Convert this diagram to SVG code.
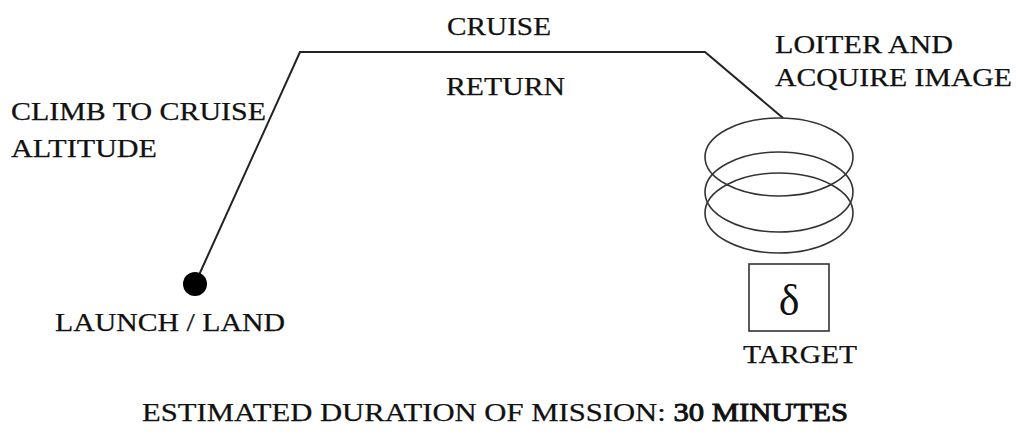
<svg xmlns="http://www.w3.org/2000/svg" width="1020" height="439" viewBox="0 0 1020 439">
  <style>
    .lbl { font-family: "Liberation Serif", "Times New Roman", serif; font-size: 26px; fill: #111; stroke: #111; stroke-width: 0.25; }
    .path { fill: none; stroke: #222; stroke-width: 2; stroke-linejoin: miter; }
    .loop { fill: none; stroke: #333; stroke-width: 1.6; }
  </style>
  <rect width="1020" height="439" fill="#ffffff"/>

  <!-- flight path: climb, cruise leg, descent into the loiter orbit -->
  <g id="connectors">
    <path class="path" d="M 199 275 L 300 52 L 705 52 L 783 118"/>
  </g>

  <g id="launch">
    <circle cx="195" cy="284" r="12" fill="#000"/>
    <text class="lbl" x="55" y="331" textLength="230" lengthAdjust="spacingAndGlyphs">LAUNCH / LAND</text>
  </g>

  <g id="climb">
    <text class="lbl" x="11" y="120" textLength="255" lengthAdjust="spacingAndGlyphs">CLIMB TO CRUISE</text>
    <text class="lbl" x="11" y="157" textLength="146" lengthAdjust="spacingAndGlyphs">ALTITUDE</text>
  </g>

  <g id="cruise">
    <text class="lbl" x="447" y="35" textLength="104" lengthAdjust="spacingAndGlyphs">CRUISE</text>
    <text class="lbl" x="446" y="95" textLength="119" lengthAdjust="spacingAndGlyphs">RETURN</text>
  </g>

  <g id="loiter">
    <ellipse class="loop" cx="779" cy="157" rx="74" ry="39"/>
    <ellipse class="loop" cx="779" cy="192" rx="74" ry="40"/>
    <ellipse class="loop" cx="779" cy="213" rx="74" ry="40"/>
    <text class="lbl" x="775" y="53" textLength="178" lengthAdjust="spacingAndGlyphs">LOITER AND</text>
    <text class="lbl" x="775" y="86" textLength="237" lengthAdjust="spacingAndGlyphs">ACQUIRE IMAGE</text>
  </g>

  <g id="target">
    <rect x="749" y="264" width="80" height="67" fill="none" stroke="#333" stroke-width="1.6"/>
    <text x="789" y="315" text-anchor="middle" font-family="Liberation Serif, serif" font-size="44" fill="#111">δ</text>
    <text class="lbl" x="743" y="363" textLength="114" lengthAdjust="spacingAndGlyphs">TARGET</text>
  </g>

  <g id="duration">
    <text class="lbl" x="142" y="421" font-size="28" textLength="706" lengthAdjust="spacingAndGlyphs">ESTIMATED DURATION OF MISSION: <tspan stroke-width="0.9">30 MINUTES</tspan></text>
  </g>
</svg>
